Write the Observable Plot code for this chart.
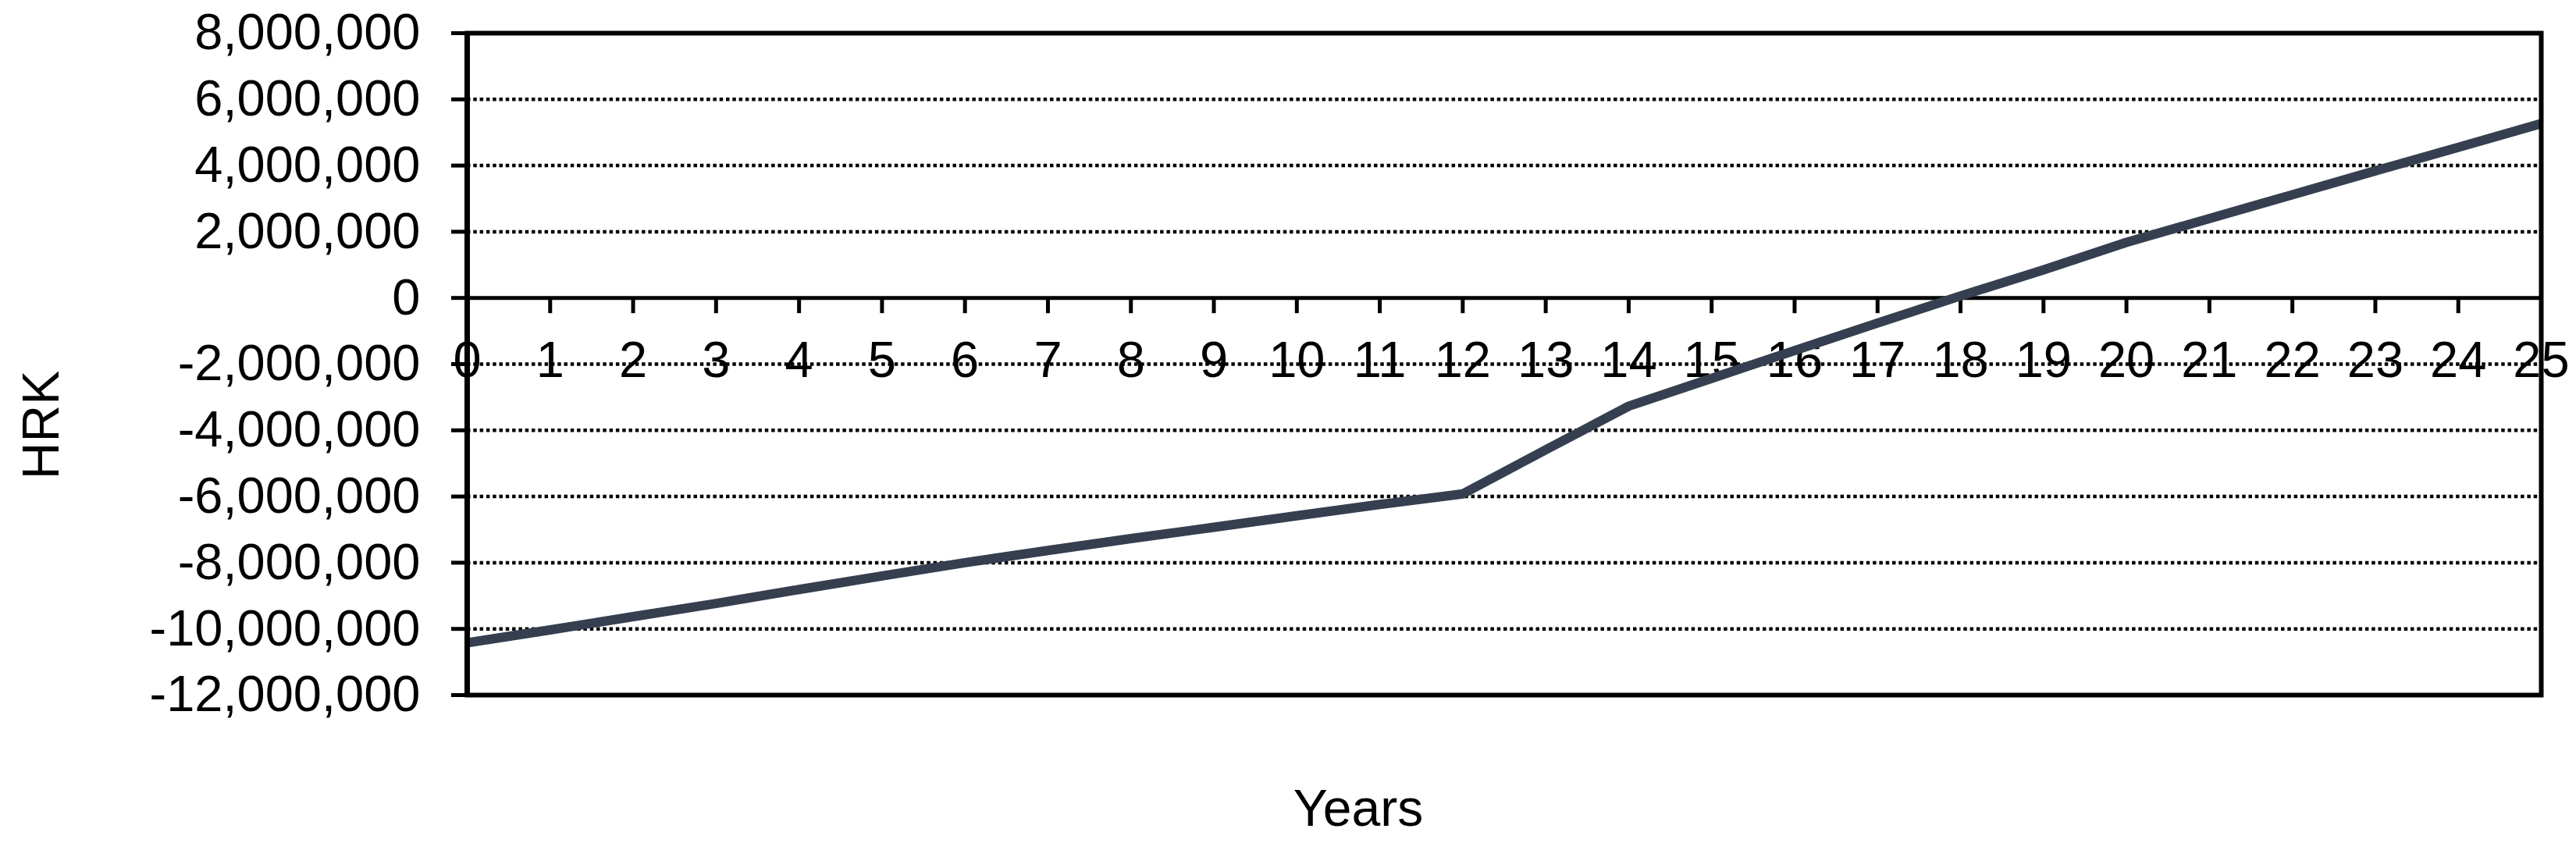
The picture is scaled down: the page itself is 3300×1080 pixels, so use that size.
<!DOCTYPE html>
<html>
<head>
<meta charset="utf-8">
<script src="https://cdn.jsdelivr.net/npm/d3@7"></script>
<script src="https://cdn.jsdelivr.net/npm/@observablehq/plot@0.6"></script>
<style>
  html, body { margin: 0; padding: 0; background: #fff; }
  svg { display: block; }
</style>
</head>
<body>
<div id="chart"></div>
<script>
// ---- data ----
const years = [0,1,2,3,4,5,6,7,8,9,10,11,12,13,14,15,16,17,18,19,20,21,22,23,24,25];
const values = [
  -10420000, -10030000, -9630000, -9230000, -8810000, -8400000,
  -8000000, -7630000, -7270000, -6930000, -6580000, -6240000,
  -5920000, -4590000, -3270000, -2430000, -1590000, -760000,
  60000, 850000, 1680000, 2400000, 3120000, 3840000, 4550000, 5270000
];
const yTicks = [-12000000, -10000000, -8000000, -6000000, -4000000, -2000000, 0, 2000000, 4000000, 6000000, 8000000];
const gridValues = [-10000000, -8000000, -6000000, -4000000, -2000000, 2000000, 4000000, 6000000];
const xTitle = "Years";
const yTitle = "HRK";

const data = years.map((y, i) => ({year: y, value: values[i]}));
const fmt = d => d.toLocaleString("en-US");
const font = "'Liberation Sans', Arial, sans-serif";

const chart = Plot.plot({
  width: 3300,
  height: 1080,
  marginLeft: 598,
  marginRight: 45,
  marginTop: 42,
  marginBottom: 190,
  style: {fontFamily: font, background: "#fff", color: "#000", overflow: "visible"},
  x: {domain: [0, 25], axis: null},
  y: {domain: [-12000000, 8000000], label: null, axis: null},
  marks: [
    Plot.ruleY(gridValues, {stroke: "#000", strokeWidth: 4.5, strokeDasharray: "4.5,3.8"}),
    Plot.axisY(yTicks, {tickSize: 20, tickPadding: 40, fontSize: 65, tickFormat: fmt, strokeWidth: 5, stroke: "#000", label: null}),
    Plot.text(years, {x: d => d, y: 0, text: d => String(d), dy: 80, fontSize: 65, fill: "#000", lineAnchor: "middle", textAnchor: "middle"}),
    Plot.ruleY([0], {stroke: "#000", strokeWidth: 5}),
    Plot.ruleX(years.slice(1, -1), {x: d => d, y1: 0, y2: 0, insetBottom: -20, stroke: "#000", strokeWidth: 5}),
    Plot.line(data, {x: "year", y: "value", stroke: "#353f50", strokeWidth: 12, strokeLinecap: "round", strokeLinejoin: "round", clip: true}),
    Plot.frame({stroke: "#000", strokeWidth: 6}),
    Plot.ruleX([0], {stroke: "#000", strokeWidth: 7}),
    Plot.text([xTitle], {frameAnchor: "bottom", lineAnchor: "middle", textAnchor: "middle", dx: -187, dy: 146, fontSize: 66, fill: "#000"}),
    Plot.text([yTitle], {frameAnchor: "left", lineAnchor: "middle", textAnchor: "middle", rotate: -90, dx: -545, dy: 78, fontSize: 66, fill: "#000"})
  ]
});
document.getElementById("chart").appendChild(chart);
</script>
</body>
</html>
